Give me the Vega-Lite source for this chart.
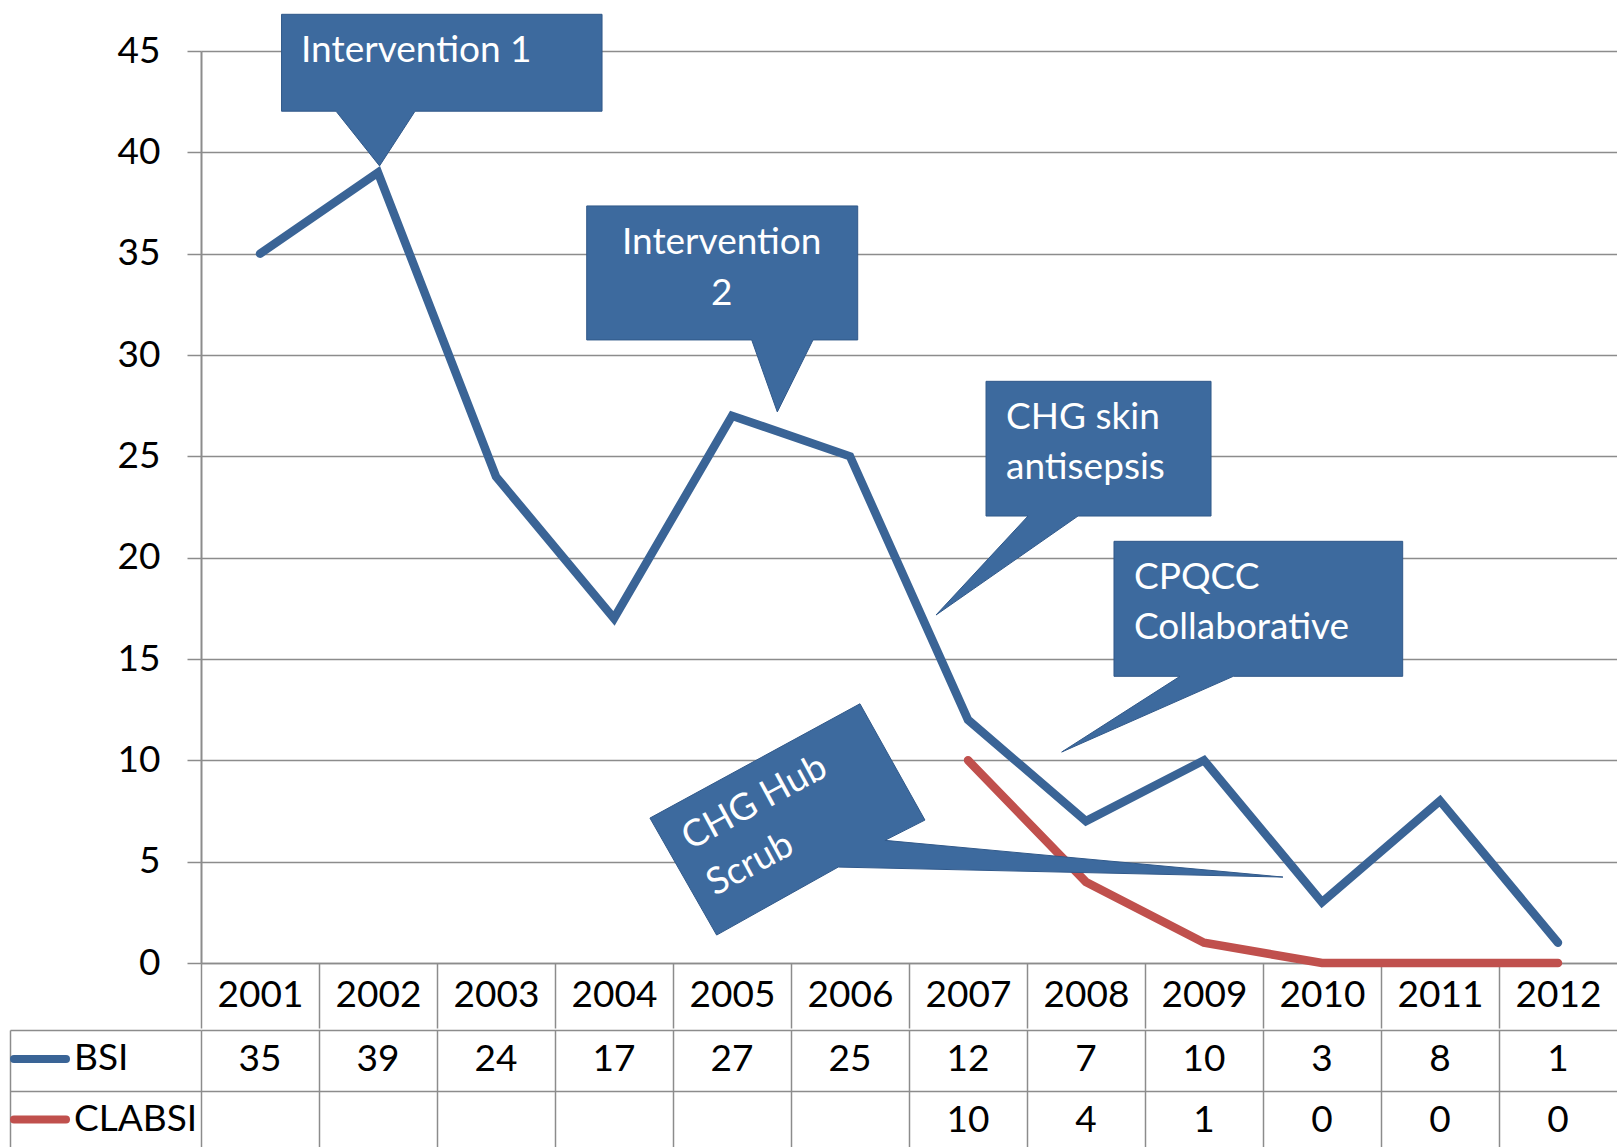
{
  "$schema": "https://vega.github.io/schema/vega-lite/v6.json",
  "padding": {"left": 9, "top": 12, "right": 0, "bottom": 0},
  "background": "white",
  "spacing": 0,
  "config": {"view": {"stroke": null}, "font": "Lato"},
  "datasets": {
    "rates": [
      {"year": 2001, "series": "BSI", "value": 35},
      {"year": 2002, "series": "BSI", "value": 39},
      {"year": 2003, "series": "BSI", "value": 24},
      {"year": 2004, "series": "BSI", "value": 17},
      {"year": 2005, "series": "BSI", "value": 27},
      {"year": 2006, "series": "BSI", "value": 25},
      {"year": 2007, "series": "BSI", "value": 12},
      {"year": 2008, "series": "BSI", "value": 7},
      {"year": 2009, "series": "BSI", "value": 10},
      {"year": 2010, "series": "BSI", "value": 3},
      {"year": 2011, "series": "BSI", "value": 8},
      {"year": 2012, "series": "BSI", "value": 1},
      {"year": 2007, "series": "CLABSI", "value": 10},
      {"year": 2008, "series": "CLABSI", "value": 4},
      {"year": 2009, "series": "CLABSI", "value": 1},
      {"year": 2010, "series": "CLABSI", "value": 0},
      {"year": 2011, "series": "CLABSI", "value": 0},
      {"year": 2012, "series": "CLABSI", "value": 0}
    ]
  },
  "vconcat": [
    {
      "width": 1416,
      "height": 912,
      "layer": [
        {
          "data": {"name": "rates"},
          "mark": {"type": "line", "strokeWidth": 8.5, "strokeCap": "round", "strokeJoin": "miter"},
          "encoding": {
            "x": {
              "field": "year", "type": "quantitative",
              "scale": {"domain": [2000.5, 2012.5], "nice": false, "zero": false},
              "axis": {
                "values": [2000.5, 2001.5, 2002.5, 2003.5, 2004.5, 2005.5, 2006.5, 2007.5, 2008.5, 2009.5, 2010.5, 2011.5],
                "labelExpr": "format(datum.value + 0.5, 'd')",
                "labelOffset": 59, "labelPadding": -33, "labelBaseline": "middle",
                "labelFlush": false, "labelOverlap": false, "labelBound": false,
                "labelFont": "Lato", "labelFontSize": 37, "labelColor": "#000000",
                "tickSize": 65, "tickColor": "#8C8C8C", "tickWidth": 1.5,
                "domainColor": "#8C8C8C", "domainWidth": 1.5,
                "grid": false, "title": null
              }
            },
            "y": {
              "field": "value", "type": "quantitative",
              "scale": {"domain": [0, 45], "nice": false},
              "axis": {
                "values": [0, 5, 10, 15, 20, 25, 30, 35, 40, 45],
                "grid": true, "gridColor": "#8C8C8C", "gridWidth": 1.5,
                "tickSize": 14, "tickColor": "#8C8C8C", "tickWidth": 1.5,
                "domainColor": "#8C8C8C", "domainWidth": 2,
                "labelFont": "Lato", "labelFontSize": 37, "labelColor": "#000000",
                "labelPadding": 27, "title": null,
                "minExtent": 191, "maxExtent": 191
              }
            },
            "color": {
              "field": "series", "type": "nominal",
              "scale": {"domain": ["BSI", "CLABSI"], "range": ["#3A6496", "#C0504D"]},
              "legend": {
                "orient": "none", "legendX": -191, "legendY": 978,
                "direction": "vertical", "title": null,
                "symbolType": "stroke", "symbolSize": 2704, "symbolStrokeWidth": 8,
                "labelFont": "Lato", "labelFontSize": 37, "labelColor": "#000000",
                "labelOffset": 4, "rowPadding": 12.5, "padding": 0, "labelLimit": 0,
                "encode": {
                  "symbols": {
                    "update": {
                      "stroke": {"signal": "datum.value === 'BSI' ? '#4F81BD' : '#C0504D'"},
                      "strokeCap": {"value": "round"}
                    }
                  }
                }
              }
            }
          }
        },
        {
          "data": {"values": [{"note": "Intervention 1"}]},
          "encoding": {"x": {"datum": 2002.013, "type": "quantitative"}, "y": {"datum": 39.33, "type": "quantitative"}},
          "layer": [
            {"mark": {"type": "point", "shape": "M-98,-151.6H222.5V-54.7H35.5L0,0L-43.5,-54.7H-98Z", "size": 4, "filled": true, "fill": "#3D6A9E", "stroke": "#31598A", "strokeWidth": 1, "opacity": 1}},
            {"mark": {"type": "text", "align": "left", "baseline": "middle", "dx": -78.5, "dy": -115.3, "font": "Lato", "fontSize": 37, "color": "#FFFFFF", "lineBreak": "\n"}, "encoding": {"text": {"field": "note"}}}
          ]
        },
        {
          "data": {"values": [{"note": "Intervention\n2"}]},
          "encoding": {"x": {"datum": 2005.384, "type": "quantitative"}, "y": {"datum": 27.19, "type": "quantitative"}},
          "layer": [
            {"mark": {"type": "point", "shape": "M-190.6,-206H80.4V-72H35.7L0,0L-25.6,-72H-190.6Z", "size": 4, "filled": true, "fill": "#3D6A9E", "stroke": "#31598A", "strokeWidth": 1, "opacity": 1}},
            {"mark": {"type": "text", "align": "center", "baseline": "middle", "dx": -55.6, "dy": -169.3, "lineHeight": 51, "font": "Lato", "fontSize": 37, "color": "#FFFFFF", "lineBreak": "\n"}, "encoding": {"text": {"field": "note"}}}
          ]
        },
        {
          "data": {"values": [{"note": "CHG skin\nantisepsis"}]},
          "encoding": {"x": {"datum": 2006.729, "type": "quantitative"}, "y": {"datum": 17.17, "type": "quantitative"}},
          "layer": [
            {"mark": {"type": "point", "shape": "M50,-233.7H275V-99H142L0,0L92,-99H50Z", "size": 4, "filled": true, "fill": "#3D6A9E", "stroke": "#31598A", "strokeWidth": 1, "opacity": 1}},
            {"mark": {"type": "text", "align": "left", "baseline": "middle", "dx": 70, "dy": -197, "lineHeight": 50, "font": "Lato", "fontSize": 37, "color": "#FFFFFF", "lineBreak": "\n"}, "encoding": {"text": {"field": "note"}}}
          ]
        },
        {
          "data": {"values": [{"note": "CPQCC\nCollaborative"}]},
          "encoding": {"x": {"datum": 2007.794, "type": "quantitative"}, "y": {"datum": 10.41, "type": "quantitative"}},
          "layer": [
            {"mark": {"type": "point", "shape": "M52.3,-210.7H341V-75.7H171.6L0,0L118.3,-75.7H52.3Z", "size": 4, "filled": true, "fill": "#3D6A9E", "stroke": "#31598A", "strokeWidth": 1, "opacity": 1}},
            {"mark": {"type": "text", "align": "left", "baseline": "middle", "dx": 72.3, "dy": -174.3, "lineHeight": 50, "font": "Lato", "fontSize": 37, "color": "#FFFFFF", "lineBreak": "\n"}, "encoding": {"text": {"field": "note"}}}
          ]
        },
        {
          "data": {"values": [{"note": "CHG Hub\nScrub"}]},
          "encoding": {"x": {"datum": 2009.669, "type": "quantitative"}, "y": {"datum": 4.24, "type": "quantitative"}},
          "layer": [
            {"mark": {"type": "point", "shape": "M-423,-173.3L-358,-57L-398,-36.7L0,0L-444.7,-10L-566.3,58L-633,-59Z", "size": 4, "filled": true, "fill": "#3D6A9E", "stroke": "#31598A", "strokeWidth": 1, "opacity": 1}},
            {"mark": {"type": "text", "align": "left", "baseline": "middle", "angle": -28.6, "dx": -507.7, "dy": -318, "lineHeight": 52, "font": "Lato", "fontSize": 37, "color": "#FFFFFF", "lineBreak": "\n"}, "encoding": {"text": {"field": "note"}}}
          ]
        }
      ]
    },
    {
      "width": 1416,
      "height": 121,
      "data": {"name": "rates"},
      "mark": {"type": "text", "font": "Lato", "fontSize": 37, "color": "#000000", "baseline": "middle"},
      "encoding": {
        "x": {
          "field": "year", "type": "quantitative",
          "scale": {"domain": [2000.5, 2012.5], "nice": false, "zero": false},
          "axis": {
            "values": [2000.5, 2001.5, 2002.5, 2003.5, 2004.5, 2005.5, 2006.5, 2007.5, 2008.5, 2009.5, 2010.5, 2011.5],
            "grid": true, "gridColor": "#8C8C8C", "gridWidth": 1.5,
            "labels": false, "ticks": false, "domain": false, "title": null
          }
        },
        "y": {
          "field": "series", "type": "nominal",
          "scale": {"domain": ["BSI", "CLABSI"], "paddingInner": 0, "paddingOuter": 0},
          "axis": {
            "offset": 191, "domain": true, "domainColor": "#8C8C8C", "domainWidth": 1.5,
            "ticks": true, "tickBand": "extent", "tickSize": -191, "tickColor": "#8C8C8C", "tickWidth": 1.5,
            "labels": false, "grid": true, "gridColor": "#8C8C8C", "gridWidth": 1.5, "title": null
          }
        },
        "text": {"field": "value", "type": "quantitative"}
      }
    }
  ]
}
